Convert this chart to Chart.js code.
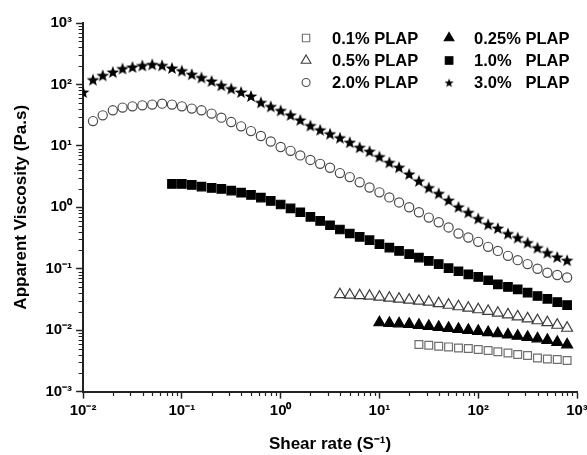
<!DOCTYPE html>
<html>
<head>
<meta charset="utf-8">
<title>Apparent viscosity vs shear rate</title>
<script src="https://cdn.jsdelivr.net/npm/chart.js@4.4.1/dist/chart.umd.min.js"></script>
<style>
    html, body { margin: 0; padding: 0; background: #fff; overflow: hidden; }
    #wrap { width: 587px; height: 455px; overflow: hidden; position: relative; }
    #inner { width: 600px; height: 455px; position: relative; }
</style>
</head>
<body>
<div id="wrap"><div id="inner"><canvas id="viscChart"></canvas></div></div>
<script>
// ---------------------------------------------------------------------------
// Data
// ---------------------------------------------------------------------------
const shearRate = [
    0.01, 0.0126, 0.0158, 0.02, 0.0251, 0.0316, 0.0398, 0.0501, 0.0631, 0.0794,
    0.1, 0.126, 0.158, 0.2, 0.251, 0.316, 0.398, 0.501, 0.631, 0.794,
    1, 1.26, 1.58, 2.0, 2.51, 3.16, 3.98, 5.01, 6.31, 7.94,
    10, 12.6, 15.8, 20, 25.1, 31.6, 39.8, 50.1, 63.1, 79.4,
    100, 126, 158, 200, 251, 316, 398, 501, 631, 794,
];

const seriesLabels = ["0.1% PLAP", "0.25% PLAP", "0.5% PLAP", "1.0%   PLAP", "2.0% PLAP", "3.0%   PLAP"];
// index into shearRate of the first measured point of each series
const seriesStart = [34, 30, 26, 9, 1, 0];

const plap01 = [0.00584, 0.00569, 0.00548, 0.00534, 0.00514, 0.00502, 0.00484, 0.00466,
    0.00445, 0.00426, 0.00401, 0.00386, 0.00352, 0.00340, 0.00332, 0.00320];
const plap025 = [0.01327, 0.0130, 0.01277, 0.01253, 0.01208, 0.01162, 0.01119, 0.01079, 0.01038, 0.0100,
    0.00964, 0.00920, 0.00879, 0.00841, 0.00804, 0.00769, 0.00726, 0.00687, 0.00637, 0.00580];
const plap05 = [0.0380, 0.0373, 0.0366, 0.0360, 0.0346, 0.0333, 0.0321, 0.0309, 0.0298, 0.0287, 0.0271, 0.0256,
    0.0242, 0.0229, 0.0216, 0.0204, 0.0190, 0.0179, 0.0166, 0.0154, 0.0143, 0.0133, 0.0121, 0.0108];
const plap10 = [2.40, 2.40, 2.31, 2.17, 2.07, 1.99, 1.87, 1.73, 1.59, 1.44, 1.27, 1.11, 0.96, 0.83, 0.70,
    0.60, 0.51, 0.435, 0.375, 0.331, 0.292, 0.251, 0.221, 0.195, 0.173, 0.152, 0.134, 0.119, 0.102, 0.091,
    0.081, 0.0735, 0.0649, 0.0558, 0.0505, 0.0462, 0.0407, 0.036, 0.0324, 0.0287, 0.0256];
const plap20 = [25.3, 31.4, 37.9, 42.0, 44.0, 45.7, 47.0, 48.7, 47.0, 44.0, 40.4, 37.9, 33.5, 28.8, 24.4,
    20.8, 17.4, 14.5, 11.8, 9.6, 8.3, 7.0, 5.9, 5.1, 4.4, 3.6, 3.1, 2.55, 2.1, 1.75, 1.45, 1.2, 1.0, 0.83,
    0.68, 0.57, 0.47, 0.375, 0.322, 0.274, 0.227, 0.195, 0.162, 0.138, 0.119, 0.100, 0.086, 0.079, 0.072];
const plap30 = [75.4, 120, 141, 160, 182, 193, 204, 213, 205, 186, 168, 147, 130, 114, 97, 86, 75.4, 64.9,
    51.2, 44.0, 37.9, 32.0, 26.5, 21.5, 18.3, 15.8, 13.6, 11.5, 9.5, 8.2, 6.7, 5.4, 4.5, 3.5, 2.7, 2.1,
    1.69, 1.31, 1.02, 0.83, 0.66, 0.53, 0.46, 0.375, 0.322, 0.267, 0.221, 0.183, 0.156, 0.138];

const xMajor = [0.01, 0.1, 1, 10, 100, 1000];
const xTickLabels = ["10\u207B\u00B2", "10\u207B\u00B9", "10\u2070", "10\u00B9", "10\u00B2", "10\u00B3"];
const yMajor = [0.001, 0.01, 0.1, 1, 10, 100, 1000];
const yTickLabels = ["10\u207B\u00B3", "10\u207B\u00B2", "10\u207B\u00B9", "10\u2070", "10\u00B9", "10\u00B2", "10\u00B3"];
const minorSteps = [2, 3, 4, 5, 6, 7, 8, 9];

// ---------------------------------------------------------------------------
// Helpers
// ---------------------------------------------------------------------------
Chart.defaults.font.family = "'Liberation Sans', Arial, sans-serif";
Chart.defaults.color = "#000";

function majorIndex(v, majors) {
    return majors.findIndex(m => Math.abs(v / m - 1) < 1e-6);
}

function allTicks(majors) {
    const out = [];
    majors.forEach((m, i) => {
        out.push({ value: m });
        if (i < majors.length - 1) minorSteps.forEach(s => out.push({ value: m * s }));
    });
    return out;
}

function makeStar(size, outer, inner) {
    const c = document.createElement("canvas");
    c.width = size;
    c.height = size;
    const g = c.getContext("2d");
    g.fillStyle = "#000";
    g.beginPath();
    for (let i = 0; i < 10; i++) {
        const r = i % 2 ? inner : outer;
        const a = -Math.PI / 2 + i * Math.PI / 5;
        g.lineTo(size / 2 + r * Math.cos(a), size / 2 + 0.7 + r * Math.sin(a));
    }
    g.closePath();
    g.fill();
    return c;
}

const starBig = makeStar(16, 6.7, 2.8);
const starSmall = makeStar(12, 4.8, 2.0);

function points(values, start) {
    return values.map((v, i) => ({ x: shearRate[start + i], y: v }));
}

// marker look per series
const markers = [
    { style: "rect", r: 5.5, fill: "rgba(255,255,255,0)", stroke: "#6e6e6e", lStyle: "rect", lr: 5.2 },
    { style: "triangle", r: 6.3, fill: "#000", stroke: "#000", lStyle: "triangle", lr: 5.6 },
    { style: "triangle", r: 6.3, fill: "rgba(255,255,255,0)", stroke: "#3c3c3c", lStyle: "triangle", lr: 5.6 },
    { style: "rect", r: 6.0, fill: "#000", stroke: "#000", lStyle: "rect", lr: 5.4 },
    { style: "circle", r: 4.6, fill: "rgba(255,255,255,0)", stroke: "#4a4a4a", lStyle: "circle", lr: 4.0 },
    { style: starBig, r: 6, fill: "#000", stroke: "#000", lStyle: starSmall, lr: 4.6 },
];

const seriesValues = [plap01, plap025, plap05, plap10, plap20, plap30];

const datasets = seriesValues.map((vals, i) => ({
    label: seriesLabels[i],
    data: points(vals, seriesStart[i]),
    pointStyle: markers[i].style,
    pointRadius: markers[i].r,
    pointBackgroundColor: markers[i].fill,
    pointBorderColor: markers[i].stroke,
    pointBorderWidth: 1.2,
    showLine: false,
}));

// ---------------------------------------------------------------------------
// Plugins: short minor ticks + two-column legend inside the plot
// ---------------------------------------------------------------------------
const minorTicks = {
    id: "minorTicks",
    afterDraw(chart) {
        const { ctx, chartArea, scales } = chart;
        ctx.save();
        ctx.strokeStyle = "#222";
        ctx.lineWidth = 1.2;
        ctx.beginPath();
        scales.x.ticks.forEach(t => {
            if (majorIndex(t.value, xMajor) >= 0) return;
            const px = Math.round(scales.x.getPixelForValue(t.value)) + 0.5;
            ctx.moveTo(px, chartArea.bottom);
            ctx.lineTo(px, chartArea.bottom + 4.5);
        });
        scales.y.ticks.forEach(t => {
            if (majorIndex(t.value, yMajor) >= 0) return;
            const py = Math.round(scales.y.getPixelForValue(t.value)) + 0.5;
            ctx.moveTo(chartArea.left, py);
            ctx.lineTo(chartArea.left - 4.5, py);
        });
        ctx.stroke();
        ctx.restore();
    },
};

const legendPlugin = {
    id: "plapLegend",
    afterDraw(chart) {
        const { ctx, chartArea } = chart;
        const colMarker = [chartArea.left + 223, chartArea.left + 366];
        const colText = [chartArea.left + 249, chartArea.left + 391];
        const rowY = [chartArea.top + 15, chartArea.top + 37.5, chartArea.top + 59.5];
        ctx.save();
        ctx.font = "bold 16.5px 'Liberation Sans', Arial, sans-serif";
        ctx.textBaseline = "middle";
        datasets.forEach((ds, i) => {
            const col = i % 2;
            const row = Math.floor(i / 2);
            const m = markers[i];
            ctx.fillStyle = m.fill;
            ctx.strokeStyle = m.stroke;
            ctx.lineWidth = 1.1;
            Chart.helpers.drawPoint(ctx, {
                pointStyle: m.lStyle, radius: m.lr, rotation: 0, borderWidth: 1.1,
            }, colMarker[col], rowY[row]);
            ctx.fillStyle = "#000";
            ctx.fillText(ds.label, colText[col], rowY[row] + 1);
        });
        ctx.restore();
    },
};

// ---------------------------------------------------------------------------
// Chart
// ---------------------------------------------------------------------------
const axisCommon = {
    type: "logarithmic",
    border: { display: true, color: "#222", width: 2 },
};

new Chart(document.getElementById("viscChart"), {
    type: "scatter",
    data: { datasets },
    options: {
        responsive: true,
        maintainAspectRatio: false,
        animation: false,
        layout: { padding: { top: 23, right: 23, bottom: 0, left: 0 } },
        plugins: {
            legend: { display: false },
            tooltip: { enabled: false },
        },
        scales: {
            x: {
                ...axisCommon,
                min: 0.01,
                max: 1000,
                afterBuildTicks: scale => { scale.ticks = allTicks(xMajor); },
                ticks: {
                    autoSkip: false,
                    maxRotation: 0,
                    color: "#000",
                    padding: 3,
                    font: { size: 15, weight: "bold" },
                    callback: v => {
                        const i = majorIndex(v, xMajor);
                        return i >= 0 ? xTickLabels[i] : "";
                    },
                },
                grid: {
                    drawOnChartArea: false,
                    tickLength: 7,
                    tickWidth: 1.5,
                    tickColor: c => (majorIndex(c.tick.value, xMajor) >= 0 ? "#222" : "rgba(0,0,0,0)"),
                },
                title: {
                    display: true,
                    text: "Shear rate (S\u207B\u00B9)",
                    color: "#000",
                    font: { size: 17, weight: "bold" },
                    padding: { top: 12, bottom: 0 },
                },
            },
            y: {
                ...axisCommon,
                min: 0.001,
                max: 1000,
                afterBuildTicks: scale => { scale.ticks = allTicks(yMajor); },
                ticks: {
                    autoSkip: false,
                    color: "#000",
                    padding: 4,
                    font: { size: 15, weight: "bold" },
                    callback: v => {
                        const i = majorIndex(v, yMajor);
                        return i >= 0 ? yTickLabels[i] : "";
                    },
                },
                grid: {
                    drawOnChartArea: false,
                    tickLength: 7,
                    tickWidth: 1.5,
                    tickColor: c => (majorIndex(c.tick.value, yMajor) >= 0 ? "#222" : "rgba(0,0,0,0)"),
                },
                title: {
                    display: true,
                    text: "Apparent Viscosity (Pa.s)",
                    color: "#000",
                    font: { size: 17, weight: "bold" },
                    padding: { top: 11, bottom: 10 },
                },
            },
        },
    },
    plugins: [minorTicks, legendPlugin],
});
</script>
</body>
</html>
